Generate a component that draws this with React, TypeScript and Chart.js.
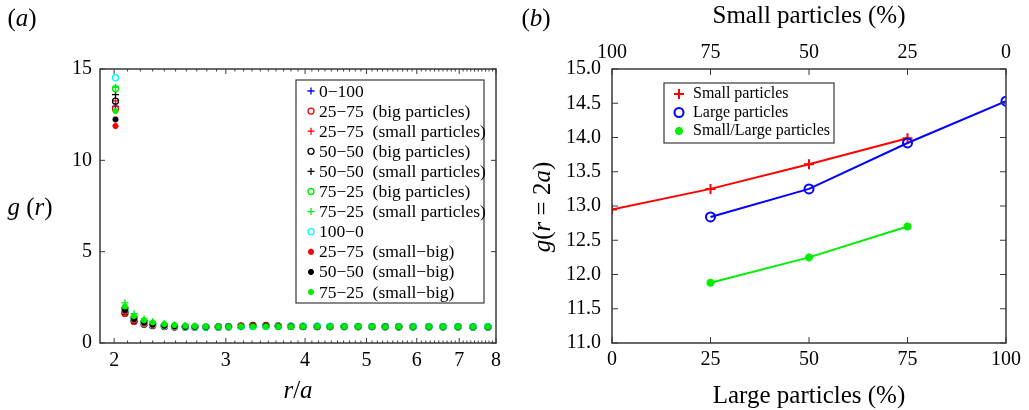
import React, { useEffect, useRef } from 'react';
import { Chart, registerables } from 'chart.js';

Chart.register(...registerables);

const FONT = '"Liberation Serif", "Times New Roman", Times, serif';
const AXIS_COLOR = '#3a3a3a';

// ---------- Panel (a) data ----------
const rOverA = [2.01, 2.08, 2.15, 2.23, 2.3, 2.4, 2.49, 2.59, 2.68, 2.79, 2.92, 3.03, 3.17, 3.31, 3.47, 3.63, 3.8, 3.97, 4.18, 4.38, 4.61, 4.85, 5.1, 5.35, 5.62, 5.92, 6.27, 6.6, 6.97, 7.36, 7.77];

const g_0_100 = [12.95, 1.85, 1.35, 1.15, 1.05, 0.98, 0.94, 0.91, 0.89, 0.88, 0.88, 0.89, 0.9, 0.91, 0.91, 0.91, 0.9, 0.9, 0.9, 0.9, 0.9, 0.9, 0.9, 0.9, 0.9, 0.9, 0.89, 0.89, 0.89, 0.89, 0.89];
const g_25_75_big = [12.83, 1.62, 1.18, 1.02, 0.95, 0.9, 0.88, 0.87, 0.86, 0.87, 0.88, 0.9, 0.93, 0.97, 0.96, 0.94, 0.92, 0.91, 0.9, 0.9, 0.9, 0.9, 0.9, 0.9, 0.89, 0.89, 0.89, 0.89, 0.89, 0.88, 0.88];
const g_25_75_small = [13.25, 1.9, 1.4, 1.18, 1.07, 0.99, 0.95, 0.92, 0.9, 0.89, 0.89, 0.9, 0.91, 0.93, 0.93, 0.92, 0.91, 0.9, 0.9, 0.9, 0.9, 0.9, 0.9, 0.9, 0.9, 0.89, 0.89, 0.89, 0.89, 0.89, 0.89];
const g_50_50_big = [13.24, 1.7, 1.25, 1.06, 0.97, 0.92, 0.89, 0.88, 0.87, 0.87, 0.88, 0.89, 0.91, 0.93, 0.93, 0.92, 0.91, 0.9, 0.9, 0.9, 0.9, 0.9, 0.9, 0.89, 0.89, 0.89, 0.89, 0.89, 0.89, 0.88, 0.88];
const g_50_50_small = [13.6, 1.95, 1.45, 1.22, 1.1, 1.01, 0.96, 0.93, 0.91, 0.9, 0.89, 0.9, 0.9, 0.91, 0.91, 0.91, 0.9, 0.9, 0.9, 0.9, 0.9, 0.9, 0.9, 0.9, 0.9, 0.89, 0.89, 0.89, 0.89, 0.89, 0.89];
const g_75_25_big = [13.92, 1.85, 1.35, 1.12, 1.02, 0.95, 0.91, 0.89, 0.88, 0.87, 0.88, 0.89, 0.9, 0.91, 0.91, 0.91, 0.91, 0.91, 0.9, 0.9, 0.9, 0.9, 0.9, 0.9, 0.89, 0.89, 0.89, 0.89, 0.89, 0.89, 0.89];
const g_75_25_small = [14.0, 2.2, 1.6, 1.32, 1.16, 1.06, 1.0, 0.96, 0.93, 0.91, 0.9, 0.9, 0.9, 0.9, 0.9, 0.9, 0.9, 0.9, 0.9, 0.9, 0.9, 0.9, 0.9, 0.9, 0.9, 0.9, 0.89, 0.89, 0.89, 0.89, 0.89];
const g_100_0 = [14.52, 1.75, 1.28, 1.08, 0.99, 0.93, 0.9, 0.88, 0.87, 0.87, 0.88, 0.89, 0.9, 0.9, 0.91, 0.92, 0.93, 0.94, 0.93, 0.92, 0.91, 0.9, 0.9, 0.9, 0.9, 0.89, 0.89, 0.89, 0.89, 0.89, 0.89];
const g_25_75_sb = [11.88, 1.7, 1.25, 1.07, 0.98, 0.93, 0.9, 0.88, 0.88, 0.88, 0.89, 0.9, 0.92, 0.94, 0.94, 0.93, 0.92, 0.91, 0.9, 0.9, 0.9, 0.9, 0.9, 0.9, 0.89, 0.89, 0.89, 0.89, 0.89, 0.89, 0.88];
const g_50_50_sb = [12.24, 1.8, 1.32, 1.12, 1.02, 0.96, 0.92, 0.9, 0.89, 0.88, 0.89, 0.9, 0.91, 0.92, 0.92, 0.91, 0.91, 0.9, 0.9, 0.9, 0.9, 0.9, 0.9, 0.9, 0.89, 0.89, 0.89, 0.89, 0.89, 0.89, 0.89];
const g_75_25_sb = [12.7, 2.0, 1.48, 1.25, 1.12, 1.03, 0.98, 0.94, 0.92, 0.9, 0.89, 0.89, 0.9, 0.9, 0.9, 0.9, 0.9, 0.9, 0.9, 0.9, 0.9, 0.9, 0.9, 0.89, 0.89, 0.89, 0.89, 0.89, 0.89, 0.89, 0.89];

const seriesA = [
  { label: '0\u2212100', data: g_0_100, color: '#0000ff', style: 'cross' },
  { label: '25\u221275  (big particles)', data: g_25_75_big, color: '#ff0000', style: 'circle' },
  { label: '25\u221275  (small particles)', data: g_25_75_small, color: '#ff0000', style: 'cross' },
  { label: '50\u221250  (big particles)', data: g_50_50_big, color: '#000000', style: 'circle' },
  { label: '50\u221250  (small particles)', data: g_50_50_small, color: '#000000', style: 'cross' },
  { label: '75\u221225  (big particles)', data: g_75_25_big, color: '#00ee00', style: 'circle' },
  { label: '75\u221225  (small particles)', data: g_75_25_small, color: '#00ee00', style: 'cross' },
  { label: '100\u22120', data: g_100_0, color: '#00ffff', style: 'circle' },
  { label: '25\u221275  (small\u2212big)', data: g_25_75_sb, color: '#ff0000', style: 'star' },
  { label: '50\u221250  (small\u2212big)', data: g_50_50_sb, color: '#000000', style: 'star' },
  { label: '75\u221225  (small\u2212big)', data: g_75_25_sb, color: '#00ee00', style: 'star' },
];

const xMajorTicksA = [2, 3, 4, 5, 6, 7, 8];
const yTicksA = [0, 5, 10, 15];

// ---------- Panel (b) data ----------
const largePctTicks = [0, 25, 50, 75, 100];
const smallSeriesX = [0, 25, 50, 75];
const smallSeriesG = [12.95, 13.25, 13.61, 13.99];
const largeSeriesX = [25, 50, 75, 100];
const largeSeriesG = [12.84, 13.25, 13.92, 14.53];
const mixedSeriesX = [25, 50, 75];
const mixedSeriesG = [11.88, 12.25, 12.7];
const yTicksB = [11, 11.5, 12, 12.5, 13, 13.5, 14, 14.5, 15];

type Part = [string, boolean];

function drawRich(ctx: CanvasRenderingContext2D, parts: Part[], x: number, y: number, size: number, align: 'center' | 'left' = 'center') {
  let total = 0;
  const widths = parts.map(([t, it]) => {
    ctx.font = `${it ? 'italic ' : ''}${size}px ${FONT}`;
    const w = ctx.measureText(t).width;
    total += w;
    return w;
  });
  let cx = align === 'center' ? x - total / 2 : x;
  ctx.textBaseline = 'middle';
  ctx.textAlign = 'left';
  ctx.fillStyle = '#000';
  parts.forEach(([t, it], i) => {
    ctx.font = `${it ? 'italic ' : ''}${size}px ${FONT}`;
    ctx.fillText(t, cx, y);
    cx += widths[i];
  });
}

function drawMarker(ctx: CanvasRenderingContext2D, style: string, x: number, y: number, r: number, color: string, lw: number) {
  ctx.save();
  ctx.strokeStyle = color;
  ctx.lineWidth = lw;
  ctx.beginPath();
  if (style === 'circle') {
    ctx.arc(x, y, r, 0, Math.PI * 2);
  } else {
    ctx.moveTo(x - r, y); ctx.lineTo(x + r, y);
    ctx.moveTo(x, y - r); ctx.lineTo(x, y + r);
    if (style === 'star') {
      const d = r * Math.SQRT1_2;
      ctx.moveTo(x - d, y - d); ctx.lineTo(x + d, y + d);
      ctx.moveTo(x - d, y + d); ctx.lineTo(x + d, y - d);
    }
  }
  ctx.stroke();
  ctx.restore();
}

function line(ctx: CanvasRenderingContext2D, x1: number, y1: number, x2: number, y2: number) {
  ctx.beginPath();
  ctx.moveTo(x1, y1);
  ctx.lineTo(x2, y2);
  ctx.stroke();
}

function markerSizeA(style: string) {
  if (style === 'circle') return { r: 3, lw: 1.3 };
  if (style === 'star') return { r: 3, lw: 2 };
  return { r: 3.5, lw: 1.3 };
}

const panelAPlugin = {
  id: 'panelA',
  afterDraw(chart: any) {
    const { ctx, chartArea: ca, scales } = chart;
    const xs = scales.x, ys = scales.y;
    ctx.save();
    ctx.strokeStyle = AXIS_COLOR;
    ctx.lineWidth = 1;
    for (let i = 20; i <= 80; i++) {
      const v = i / 10;
      const px = xs.getPixelForValue(v);
      const len = i % 10 === 0 ? 5 : 2.5;
      line(ctx, px, ca.bottom, px, ca.bottom - len);
      line(ctx, px, ca.top, px, ca.top + len);
    }
    yTicksA.forEach((v) => {
      const py = ys.getPixelForValue(v);
      line(ctx, ca.left, py, ca.left + 5, py);
      line(ctx, ca.right, py, ca.right - 5, py);
    });
    ctx.lineWidth = 1.5;
    ctx.strokeRect(ca.left, ca.top, ca.right - ca.left, ca.bottom - ca.top);

    // legend
    const bx = 296, by = 80, bw = 188, bh = 223;
    ctx.fillStyle = '#fff';
    ctx.fillRect(bx, by, bw, bh);
    ctx.lineWidth = 1.2;
    ctx.strokeStyle = AXIS_COLOR;
    ctx.strokeRect(bx, by, bw, bh);
    seriesA.forEach((s, i) => {
      const yy = 91 + i * 20.1;
      const m = markerSizeA(s.style);
      drawMarker(ctx, s.style, 311, yy, m.r, s.color, m.lw);
      ctx.font = `17.5px ${FONT}`;
      ctx.fillStyle = '#000';
      ctx.textAlign = 'left';
      ctx.textBaseline = 'middle';
      ctx.fillText(s.label, 319, yy + 1);
    });

    drawRich(ctx, [['(', false], ['a', true], [')', false]], 22, 19, 25);
    drawRich(ctx, [['g', true], [' (', false], ['r', true], [')', false]], 30, 208, 25);
    drawRich(ctx, [['r', true], ['/', false], ['a', true]], 298, 391, 25);
    ctx.restore();
  },
};

const OFFSET_B = 510;

const panelBPlugin = {
  id: 'panelB',
  afterDraw(chart: any) {
    const { ctx, chartArea: ca, scales } = chart;
    const xs = scales.x, ys = scales.y;
    ctx.save();
    ctx.strokeStyle = AXIS_COLOR;
    ctx.lineWidth = 1;
    largePctTicks.forEach((v) => {
      const px = xs.getPixelForValue(v);
      line(ctx, px, ca.bottom, px, ca.bottom - 6);
      line(ctx, px, ca.top, px, ca.top + 6);
    });
    yTicksB.forEach((v) => {
      const py = ys.getPixelForValue(v);
      line(ctx, ca.left, py, ca.left + 6, py);
      line(ctx, ca.right, py, ca.right - 6, py);
    });
    ctx.lineWidth = 1.5;
    ctx.strokeRect(ca.left, ca.top, ca.right - ca.left, ca.bottom - ca.top);

    // legend
    const bx = 664 - OFFSET_B, by = 83, bw = 170, bh = 60;
    ctx.fillStyle = '#fff';
    ctx.fillRect(bx, by, bw, bh);
    ctx.lineWidth = 1.2;
    ctx.strokeStyle = AXIS_COLOR;
    ctx.strokeRect(bx, by, bw, bh);
    const items = [
      { label: 'Small particles', style: 'cross', color: '#ff0000', r: 5, lw: 2 },
      { label: 'Large particles', style: 'circle', color: '#0000ff', r: 4.5, lw: 2 },
      { label: 'Small/Large particles', style: 'star', color: '#00ee00', r: 4, lw: 2.5 },
    ];
    items.forEach((it, i) => {
      const yy = 94 + i * 18.5;
      drawMarker(ctx, it.style, 679 - OFFSET_B, yy, it.r, it.color, it.lw);
      ctx.font = `16px ${FONT}`;
      ctx.fillStyle = '#000';
      ctx.textAlign = 'left';
      ctx.textBaseline = 'middle';
      ctx.fillText(it.label, 693 - OFFSET_B, yy);
    });

    drawRich(ctx, [['(', false], ['b', true], [')', false]], 536 - OFFSET_B, 19, 25);
    drawRich(ctx, [['Small particles (%)', false]], 809 - OFFSET_B, 16, 25);
    drawRich(ctx, [['Large particles (%)', false]], 809 - OFFSET_B, 396, 25);
    ctx.save();
    ctx.translate(543 - OFFSET_B, 207);
    ctx.rotate(-Math.PI / 2);
    drawRich(ctx, [['g', true], ['(', false], ['r', true], [' = 2', false], ['a', true], [')', false]], 0, 0, 25);
    ctx.restore();
    ctx.restore();
  },
};

const tickFont = { family: FONT, size: 20 };

export default function App() {
  const refA = useRef<HTMLCanvasElement>(null);
  const refB = useRef<HTMLCanvasElement>(null);

  useEffect(() => {
    const n = seriesA.length;
    const chartA = new Chart(refA.current as HTMLCanvasElement, {
      type: 'scatter',
      data: {
        datasets: seriesA.map((s, i) => {
          const m = markerSizeA(s.style);
          return {
            label: s.label,
            data: rOverA.map((r, j) => ({ x: r, y: s.data[j] })),
            pointStyle: s.style as any,
            pointRadius: m.r,
            pointBorderWidth: m.lw,
            borderColor: s.color,
            backgroundColor: 'rgba(0,0,0,0)',
            order: n - i,
          };
        }),
      },
      options: {
        responsive: false,
        animation: false,
        layout: { padding: { top: 69, right: 14, left: 0, bottom: 0 } },
        plugins: { legend: { display: false }, tooltip: { enabled: false } },
        scales: {
          x: {
            type: 'logarithmic',
            min: 1.9,
            max: 8,
            bounds: 'data',
            grid: { display: false, drawTicks: false },
            border: { display: false },
            afterBuildTicks: (scale: any) => {
              scale.ticks = xMajorTicksA.map((v) => ({ value: v }));
            },
            afterFit: (scale: any) => { scale.height = 67; },
            ticks: {
              autoSkip: false,
              maxRotation: 0,
              padding: 6,
              color: '#000',
              font: tickFont,
              callback: (v: any) => String(v),
            },
          } as any,
          y: {
            type: 'linear',
            min: 0,
            max: 15,
            grid: { display: false, drawTicks: false },
            border: { display: false },
            afterBuildTicks: (scale: any) => {
              scale.ticks = yTicksA.map((v) => ({ value: v }));
            },
            afterFit: (scale: any) => { scale.width = 100; },
            ticks: { padding: 8, color: '#000', font: tickFont },
          } as any,
        },
      },
      plugins: [panelAPlugin],
    });

    const chartB = new Chart(refB.current as HTMLCanvasElement, {
      type: 'line',
      data: {
        datasets: [
          {
            label: 'Small particles',
            data: smallSeriesX.map((x, i) => ({ x, y: smallSeriesG[i] })),
            borderColor: '#ff0000',
            backgroundColor: 'rgba(0,0,0,0)',
            borderWidth: 2,
            pointStyle: 'cross',
            pointRadius: 5,
            pointBorderWidth: 2,
            order: 3,
          },
          {
            label: 'Large particles',
            data: largeSeriesX.map((x, i) => ({ x, y: largeSeriesG[i] })),
            borderColor: '#0000ff',
            backgroundColor: 'rgba(0,0,0,0)',
            borderWidth: 2,
            pointStyle: 'circle',
            pointRadius: 4.5,
            pointBorderWidth: 2,
            order: 2,
          },
          {
            label: 'Small/Large particles',
            data: mixedSeriesX.map((x, i) => ({ x, y: mixedSeriesG[i] })),
            borderColor: '#00ee00',
            backgroundColor: 'rgba(0,0,0,0)',
            borderWidth: 2,
            pointStyle: 'star',
            pointRadius: 4,
            pointBorderWidth: 2.5,
            order: 1,
          },
        ],
      },
      options: {
        responsive: false,
        animation: false,
        layout: { padding: { top: 0, right: 23, left: 0, bottom: 0 } },
        plugins: { legend: { display: false }, tooltip: { enabled: false } },
        scales: {
          x: {
            type: 'linear',
            position: 'bottom',
            min: 0,
            max: 100,
            grid: { display: false, drawTicks: false },
            border: { display: false },
            afterBuildTicks: (scale: any) => {
              scale.ticks = largePctTicks.map((v) => ({ value: v }));
            },
            afterFit: (scale: any) => { scale.height = 67; },
            ticks: { padding: 5, color: '#000', font: tickFont, maxRotation: 0, autoSkip: false },
          } as any,
          x2: {
            type: 'linear',
            position: 'top',
            min: 0,
            max: 100,
            grid: { display: false, drawTicks: false },
            border: { display: false },
            afterBuildTicks: (scale: any) => {
              scale.ticks = largePctTicks.map((v) => ({ value: v }));
            },
            afterFit: (scale: any) => { scale.height = 69; },
            ticks: {
              padding: 4,
              color: '#000',
              font: tickFont,
              maxRotation: 0,
              autoSkip: false,
              callback: (v: any) => String(100 - Number(v)),
            },
          } as any,
          y: {
            type: 'linear',
            min: 11,
            max: 15,
            grid: { display: false, drawTicks: false },
            border: { display: false },
            afterBuildTicks: (scale: any) => {
              scale.ticks = yTicksB.map((v) => ({ value: v }));
            },
            afterFit: (scale: any) => { scale.width = 102; },
            ticks: {
              padding: 11,
              color: '#000',
              font: tickFont,
              callback: (v: any) => Number(v).toFixed(1),
            },
          } as any,
        },
      },
      plugins: [panelBPlugin],
    });

    return () => {
      chartA.destroy();
      chartB.destroy();
    };
  }, []);

  return (
    <div style={{ position: 'absolute', left: 0, top: 0, width: 1029, height: 410, background: '#fff' }}>
      <canvas ref={refA} width={510} height={410} style={{ position: 'absolute', left: 0, top: 0, width: 510, height: 410 }} />
      <canvas ref={refB} width={519} height={410} style={{ position: 'absolute', left: OFFSET_B, top: 0, width: 519, height: 410 }} />
    </div>
  );
}
